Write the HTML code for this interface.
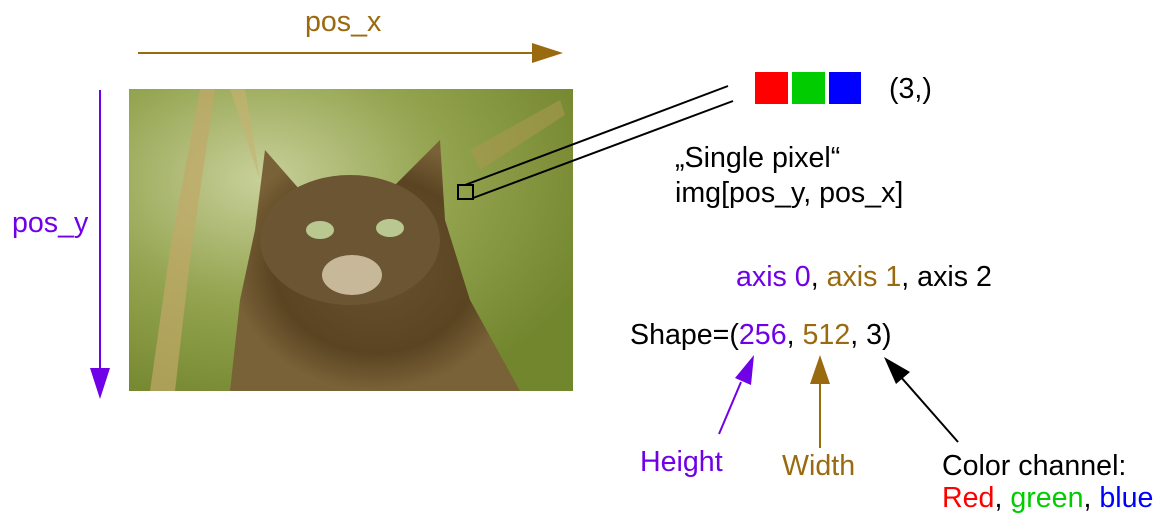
<!DOCTYPE html>
<html><head><style>
body{margin:0;width:1158px;height:521px;background:#fff;overflow:hidden;font-family:"Liberation Sans",sans-serif}
</style></head><body>
<svg width="1158" height="521" xmlns="http://www.w3.org/2000/svg" style="position:absolute;left:0;top:0">
<defs>
<radialGradient id="bg" cx="0.3" cy="0.3" r="0.8">
<stop offset="0" stop-color="#c8d09a"/><stop offset="0.5" stop-color="#94a450"/><stop offset="1" stop-color="#72862e"/>
</radialGradient>
<radialGradient id="cat" cx="0.5" cy="0.5" r="0.5">
<stop offset="0" stop-color="#6a5230"/><stop offset="0.7" stop-color="#5a4422"/><stop offset="1" stop-color="#7a6238"/>
</radialGradient>
</defs>
<rect x="129" y="89" width="444" height="302" fill="url(#bg)"/>
<path d="M150 391 L170 250 L200 89 L215 89 L190 260 L175 391Z" fill="#c2a868" opacity="0.7"/>
<path d="M230 89 L260 180 L245 89Z" fill="#c8b070" opacity="0.6"/>
<path d="M470 150 L560 100 L565 115 L480 170Z" fill="#a89850" opacity="0.6"/>
<path d="M230 391 L240 300 L255 230 L265 150 L300 190 L390 190 L440 140 L445 220 L470 300 L520 391Z" fill="url(#cat)"/>
<ellipse cx="350" cy="240" rx="90" ry="65" fill="#6b5533"/>
<ellipse cx="320" cy="230" rx="14" ry="9" fill="#b8c890"/>
<ellipse cx="390" cy="228" rx="14" ry="9" fill="#b8c890"/>
<ellipse cx="352" cy="275" rx="30" ry="20" fill="#c8b89a"/>
<rect x="458" y="185" width="15" height="14" fill="none" stroke="#000" stroke-width="2"/>
<line x1="465" y1="185" x2="728" y2="86" stroke="#000" stroke-width="2"/>
<line x1="473" y1="198" x2="733" y2="101" stroke="#000" stroke-width="2"/>
<line x1="138" y1="53" x2="540" y2="53" stroke="#9a6a10" stroke-width="2"/>
<polygon points="532,43 563,53 532,63" fill="#9a6a10"/>
<line x1="100" y1="90" x2="100" y2="372" stroke="#7000e8" stroke-width="2"/>
<polygon points="90,368 100,399 110,368" fill="#7000e8"/>
<rect x="755" y="72" width="33" height="32" fill="#ff0000"/>
<rect x="792" y="72" width="33" height="32" fill="#00cc00"/>
<rect x="829" y="72" width="32" height="32" fill="#0000ff"/>
<line x1="719" y1="434" x2="741" y2="382" stroke="#7000e8" stroke-width="2"/>
<polygon points="735,378 754,355 751,385" fill="#7000e8"/>
<line x1="820" y1="448" x2="820" y2="382" stroke="#9a6a10" stroke-width="2"/>
<polygon points="810,384 820,355 830,384" fill="#9a6a10"/>
<line x1="958" y1="442" x2="900" y2="376" stroke="#000" stroke-width="2"/>
<polygon points="884,357 910,372 896,384" fill="#000"/>
<g font-family="Liberation Sans, sans-serif" font-size="28.6">
<text x="305" y="31" fill="#9a6a10">pos_x</text>
<text x="12" y="232" fill="#7000e8">pos_y</text>
<text x="889" y="98" fill="#000">(3,)</text>
<text x="675" y="167" fill="#000">„Single pixel“</text>
<text x="675" y="202" fill="#000">img[pos_y, pos_x]</text>
<text x="736" y="286"><tspan fill="#7000e8">axis 0</tspan><tspan fill="#000">, </tspan><tspan fill="#9a6a10">axis 1</tspan><tspan fill="#000">, axis 2</tspan></text>
<text x="630" y="344"><tspan fill="#000">Shape=(</tspan><tspan fill="#7000e8">256</tspan><tspan fill="#000">, </tspan><tspan fill="#9a6a10">512</tspan><tspan fill="#000">, 3)</tspan></text>
<text x="640" y="471" fill="#7000e8">Height</text>
<text x="782" y="475" fill="#9a6a10">Width</text>
<text x="942" y="475" fill="#000">Color channel:</text>
<text x="942" y="507"><tspan fill="#ff0000">Red</tspan><tspan fill="#000">, </tspan><tspan fill="#00cc00">green</tspan><tspan fill="#000">, </tspan><tspan fill="#0000ff">blue</tspan></text>
</g>
</svg>
</body></html>
